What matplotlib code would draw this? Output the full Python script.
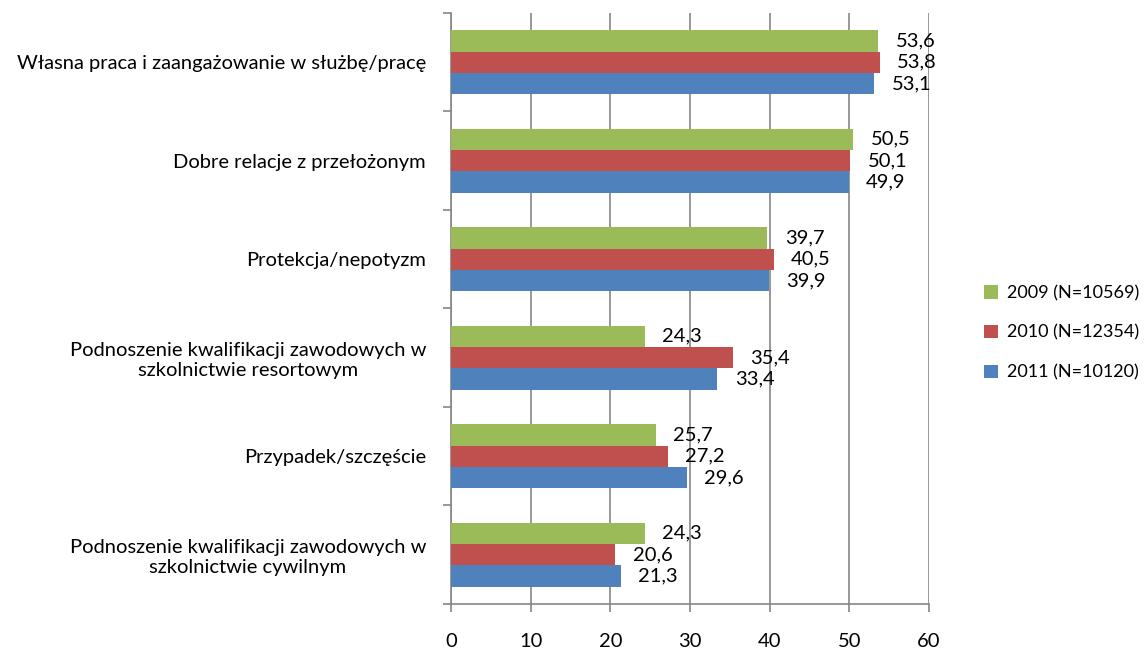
import matplotlib
matplotlib.use("Agg")
import matplotlib.pyplot as plt
import numpy as np

categories = [
    "Własna praca i zaangażowanie w służbę/pracę",
    "Dobre relacje z przełożonym",
    "Protekcja/nepotyzm",
    "Podnoszenie kwalifikacji zawodowych w\nszkolnictwie resortowym",
    "Przypadek/szczęście",
    "Podnoszenie kwalifikacji zawodowych w\nszkolnictwie cywilnym",
]
series_names = ["2009 (N=10569)", "2010 (N=12354)", "2011 (N=10120)"]
v2009 = [53.6, 50.5, 39.7, 24.3, 25.7, 24.3]
v2010 = [53.8, 50.1, 40.5, 35.4, 27.2, 20.6]
v2011 = [53.1, 49.9, 39.9, 33.4, 29.6, 21.3]
colors = ["#9BBB59", "#C0504D", "#4F81BD"]
xticks = [0, 10, 20, 30, 40, 50, 60]

plt.rcParams['font.family'] = ['Lato', 'DejaVu Sans']
FS = 14.5

fig = plt.figure(figsize=(11.48, 6.5), dpi=100)
ax = fig.add_axes([0.3929, 0.0708, 0.4164, 0.9092])

n = len(categories)
centers = np.arange(n)
h = 0.217
series = [v2009, v2010, v2011]
for i, (vals, col, name) in enumerate(zip(series, colors, series_names)):
    ypos = centers + (i - 1) * h
    ax.barh(ypos, vals, height=h, color=col, label=name, zorder=3)
    for y, v in zip(ypos, vals):
        ax.text(v + 2.2, y, f"{v:.1f}".replace('.', ','), va='center', ha='left',
                fontsize=FS, color='black')

ax.set_ylim(n - 0.5, -0.5)
ax.set_xlim(0, 60)
ax.set_xticks(xticks)
ax.set_xticklabels([str(t) for t in xticks], fontsize=FS)
ax.tick_params(axis='x', length=6, pad=15, color='#868686', width=1.2, direction='out')
ax.set_yticks(centers)
ax.set_yticklabels(categories, fontsize=FS, multialignment='center')
ax.tick_params(axis='y', length=0, pad=18)
ax.set_yticks(np.arange(n + 1) - 0.5, minor=True)
ax.tick_params(axis='y', which='minor', length=6, color='#868686', width=1.2, direction='out')
for lbl in ax.get_yticklabels():
    lbl.set_multialignment('center')

ax.grid(axis='x', color='#868686', linewidth=1.2, zorder=0)
for s in ['top', 'right']:
    ax.spines[s].set_visible(False)
ax.spines['left'].set_color('#868686')
ax.spines['left'].set_linewidth(1.2)
ax.spines['bottom'].set_color('#868686')
ax.spines['bottom'].set_linewidth(1.2)

handles, labels = ax.get_legend_handles_labels()
leg = fig.legend(handles, labels, loc='center left', bbox_to_anchor=(0.843, 0.488),
                 frameon=False, fontsize=13, handlelength=0.75, handleheight=0.75,
                 handletextpad=0.5, labelspacing=1.3)

fig.savefig("out.png", dpi=100)
